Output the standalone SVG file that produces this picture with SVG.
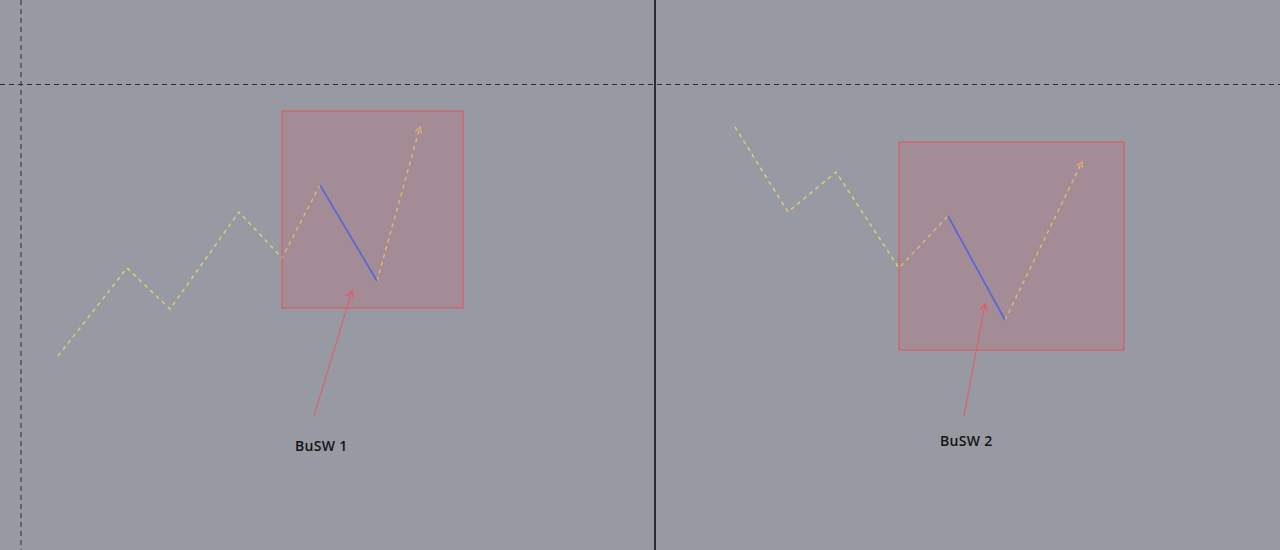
<svg xmlns="http://www.w3.org/2000/svg" width="1280" height="550" viewBox="0 0 1280 550">
<style>
.grid{stroke:#2a2c33;stroke-width:1;stroke-dasharray:5 4;fill:none}
.wave{stroke:#dccd78;stroke-width:1.5;stroke-dasharray:4 4;fill:none}
.blue{stroke:#5a66d6;stroke-width:1.7;fill:none}
.box{fill:rgb(232,60,90);fill-opacity:0.15;stroke:#e0525c;stroke-width:1}
.pointer{stroke:#ea5560;stroke-width:1;fill:none}
.lbl{font-family:"Open Sans","Liberation Sans",sans-serif;font-size:14px;font-weight:600;fill:#141414;letter-spacing:0.3px}
</style>
<defs>
<marker id="ya" viewBox="0 0 10 10" refX="8" refY="5" markerWidth="8" markerHeight="8" markerUnits="userSpaceOnUse" orient="auto">
<path d="M1,1 L8,5 L1,9" fill="none" stroke="#e8c27a" stroke-width="1.5"/>
</marker>
<marker id="ra" viewBox="0 0 10 10" refX="8" refY="5" markerWidth="9" markerHeight="9" markerUnits="userSpaceOnUse" orient="auto">
<path d="M1,1 L8,5 L1,9" fill="none" stroke="#ea5560" stroke-width="1.3"/>
</marker>
</defs>
<rect x="0" y="0" width="1280" height="550" fill="#979aa2"/>
<g id="grid">
<line class="grid" x1="21" y1="0" x2="21" y2="550"/>
<line class="grid" x1="0" y1="84.5" x2="1280" y2="84.5"/>
<line x1="655" y1="0" x2="655" y2="550" stroke="#0a0a0a" stroke-width="1.5"/>
</g>
<g id="panel1">
<polyline class="wave" points="58,356 127,268 170,309 239,212 282,258 320,185"/>
<line class="wave" x1="377" y1="281" x2="420" y2="127" marker-end="url(#ya)"/>
<rect class="box" x="282" y="111" width="181" height="197"/>
<line class="blue" x1="320" y1="185" x2="377" y2="281"/>
<line class="pointer" x1="314" y1="416" x2="352" y2="291" marker-end="url(#ra)"/>
<text class="lbl" x="295" y="451">BuSW 1</text>
</g>
<g id="panel2">
<polyline class="wave" points="735,127 788,212 836,172 899,268 948,216"/>
<line class="wave" x1="1005" y1="320" x2="1082" y2="162" marker-end="url(#ya)"/>
<rect class="box" x="899" y="142" width="225" height="208"/>
<line class="blue" x1="948" y1="216" x2="1005" y2="320"/>
<line class="pointer" x1="964" y1="416" x2="985" y2="304" marker-end="url(#ra)"/>
<text class="lbl" x="940" y="446">BuSW 2</text>
</g>
</svg>
